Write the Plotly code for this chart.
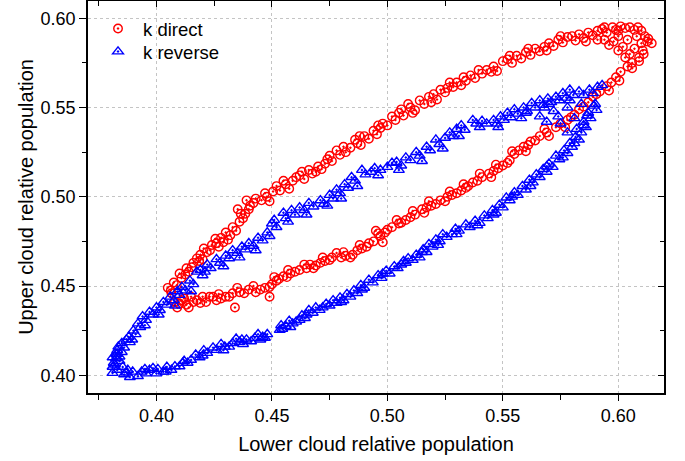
import plotly.graph_objects as go

# ---- k direct (red circles), traced around the loop ----
direct_x = [
0.4049,0.4062,0.4075,0.4088,0.4100,0.4108,0.4130,0.4125,0.4160,0.4152,0.4175,0.4190,0.4185,0.4218,0.4205,
0.4240,0.4232,0.4260,0.4255,0.4280,0.4290,0.4300,0.4320,0.4330,0.4345,0.4352,0.4360,0.4375,0.4390,0.4385,
0.4405,0.4430,0.4420,0.4455,0.4478,0.4490,0.4505,0.4520,0.4535,0.4560,0.4575,0.4590,0.4605,0.4620,0.4640,
0.4660,0.4675,0.4700,0.4715,0.4740,0.4730,0.4760,0.4780,0.4795,0.4820,0.4840,0.4870,0.4860,0.4885,0.4900,
0.4920,0.4940,0.4955,0.4980,0.4970,0.5000,0.5020,0.5035,0.5050,0.5070,0.5100,0.5090,0.5120,0.5140,0.5160,
0.5180,0.5200,0.5215,0.5230,0.5250,0.5270,0.5285,0.5300,0.5320,0.5340,0.5360,0.5380,0.5410,0.5430,0.5460,
0.5475,0.5500,0.5520,0.5540,0.5560,0.5580,0.5600,0.5620,0.5640,0.5660,0.5680,0.5700,0.5720,0.5740,0.5760,
0.5780,0.5800,0.5815,0.5830,0.5850,0.5870,0.5890,0.5910,0.5930,0.5950,0.5975,0.5990,0.6010,0.6030,0.6050,
0.6070,0.6085,0.6100,0.6115,0.6130,0.6145,0.6125,
0.5960,0.6000,0.6040,0.6070,0.6030,0.6090,0.6060,0.6000,0.5940,0.6100,0.5980,0.6020,0.6080,0.5910,0.6110,0.6050,
0.6106,0.6090,0.6060,0.6040,0.6010,0.5990,0.6005,0.5970,0.5950,0.5960,0.5920,0.5890,0.5905,0.5870,0.5830,
0.5850,0.5810,0.5780,0.5795,
0.5730,0.5750,0.5690,0.5700,0.5660,0.5640,0.5620,0.5590,0.5600,0.5570,0.5550,0.5530,0.5520,0.5500,0.5480,
0.5460,0.5440,0.5450,0.5410,0.5390,0.5370,0.5350,0.5340,0.5320,0.5300,0.5280,0.5260,0.5250,0.5230,0.5210,
0.5190,0.5170,0.5150,0.5160,0.5120,0.5100,0.5080,0.5060,0.5050,0.5020,0.5000,0.4990,0.4970,0.4980,0.4960,
0.4940,0.4920,0.4910,0.4890,0.4870,0.4850,0.4840,0.4820,0.4800,0.4780,0.4760,0.4750,0.4730,0.4710,0.4690,
0.4680,0.4665,0.4650,0.4620,0.4600,0.4580,0.4565,0.4550,0.4530,0.4520,0.4500,0.4490,0.4490,0.4470,0.4450,
0.4430,0.4400,0.4380,0.4360,0.4340,0.4330,0.4315,0.4300,0.4280,0.4260,0.4245,0.4230,0.4215,0.4190,0.4175,
0.4160,0.4140,0.4130,0.4110,0.4100,0.4090,0.4080,0.4065,
0.4140,0.4200,0.4270,0.4310,0.4365,0.4400,0.4470,0.4550,0.4630,0.4690,0.4750,0.4810,0.4880,0.4960,0.5060,
0.5110,0.5190,0.5260,0.5330,0.5395,0.5450,0.5530,0.5610,0.5690,0.5750,0.5860,0.5940,0.6000,
0.5770,0.5680,0.5610,0.5540,0.5470,0.5400,0.5330,0.5270,0.5180,0.5110,0.5040,0.4950,0.4880,0.4810,0.4720,
0.4640,0.4570,0.4510,0.4420,0.4350,0.4270,0.4200,0.4150,0.4120,
]
direct_y = [
0.4490,0.4475,0.4520,0.4505,0.4570,0.4545,0.4600,0.4565,0.4630,0.4605,0.4655,0.4675,0.4640,0.4690,0.4710,
0.4730,0.4700,0.4740,0.4765,0.4770,0.4745,0.4800,0.4785,0.4830,0.4810,0.4930,0.4860,0.4880,0.4980,0.4905,
0.4950,0.4990,0.4965,0.4980,0.5000,0.4975,0.5030,0.5060,0.5035,0.5070,0.5045,0.5090,0.5110,0.5120,0.5100,
0.5150,0.5130,0.5170,0.5155,0.5210,0.5185,0.5200,0.5260,0.5235,0.5250,0.5275,0.5300,0.5320,0.5290,0.5340,
0.5325,0.5370,0.5350,0.5410,0.5385,0.5400,0.5450,0.5430,0.5470,0.5455,0.5500,0.5520,0.5485,0.5540,0.5520,
0.5560,0.5575,0.5545,0.5600,0.5585,0.5640,0.5615,0.5640,0.5625,0.5650,0.5680,0.5665,0.5690,0.5710,0.5730,
0.5705,0.5760,0.5770,0.5750,0.5790,0.5775,0.5810,0.5795,0.5830,0.5815,0.5840,0.5860,0.5845,0.5880,0.5865,
0.5895,0.5900,0.5875,0.5910,0.5890,0.5920,0.5905,0.5930,0.5940,0.5920,0.5950,0.5935,0.5955,0.5945,0.5950,
0.5935,0.5950,0.5930,0.5900,0.5885,0.5860,0.5870,
0.5850,0.5820,0.5880,0.5830,0.5780,0.5780,0.5720,0.5900,0.5880,0.5860,0.5870,0.5840,0.5900,0.5880,0.5800,0.5800,
0.5820,0.5760,0.5750,0.5730,0.5700,0.5670,0.5650,0.5640,0.5620,0.5595,0.5590,0.5560,0.5575,0.5530,0.5490,
0.5505,0.5460,0.5430,0.5445,
0.5390,0.5410,0.5360,0.5340,0.5340,0.5315,0.5310,0.5280,0.5255,0.5260,0.5240,0.5205,0.5190,0.5175,0.5160,
0.5145,0.5130,0.5110,0.5110,0.5090,0.5080,0.5060,0.5050,0.5035,0.5020,0.5010,0.5000,0.4975,0.4980,0.4960,
0.4950,0.4940,0.4930,0.4910,0.4900,0.4885,0.4870,0.4855,0.4850,0.4830,0.4815,0.4800,0.4780,0.4745,0.4795,
0.4750,0.4740,0.4720,0.4710,0.4700,0.4675,0.4660,0.4670,0.4660,0.4685,0.4660,0.4646,0.4640,0.4630,0.4615,
0.4600,0.4620,0.4600,0.4590,0.4580,0.4570,0.4550,0.4555,0.4540,0.4530,0.4510,0.4495,0.4440,0.4490,0.4480,
0.4465,0.4480,0.4460,0.4465,0.4380,0.4460,0.4440,0.4440,0.4430,0.4420,0.4440,0.4440,0.4410,0.4405,0.4420,
0.4410,0.4380,0.4395,0.4420,0.4400,0.4380,0.4410,0.4460,
0.4580,0.4650,0.4720,0.4760,0.4905,0.4930,0.5020,0.5090,0.5140,0.5140,0.5230,0.5280,0.5340,0.5400,0.5490,
0.5470,0.5530,0.5610,0.5670,0.5710,0.5700,0.5790,0.5830,0.5820,0.5900,0.5870,0.5950,0.5930,
0.5390,0.5380,0.5290,0.5255,0.5180,0.5130,0.5070,0.5030,0.4975,0.4920,0.4870,0.4810,0.4730,0.4690,0.4660,
0.4620,0.4590,0.4550,0.4500,0.4490,0.4455,0.4440,0.4440,0.4430,
]

# ---- k reverse (blue triangles), traced around the loop ----
reverse_x = [
0.3810,0.3815,0.3825,0.3830,0.3840,0.3850,0.3860,0.3870,0.3880,0.3885,0.3900,0.3910,0.3920,0.3930,0.3940,
0.3955,0.3970,0.3985,0.4000,0.4015,0.4030,0.4045,0.4060,0.4075,0.4090,0.4100,0.4110,0.4125,0.4145,0.4160,
0.4175,0.4190,0.4200,0.4220,0.4235,0.4260,0.4275,0.4300,0.4315,0.4330,0.4350,0.4370,0.4385,0.4400,0.4420,
0.4440,0.4460,0.4480,0.4490,0.4510,0.4520,0.4550,0.4560,0.4585,0.4600,0.4620,0.4640,0.4660,0.4680,0.4710,
0.4725,0.4750,0.4765,0.4780,0.4795,0.4815,0.4830,0.4845,0.4860,0.4890,0.4905,0.4930,0.4945,0.4970,0.5000,
0.5020,0.5040,0.5060,0.5080,0.5100,0.5125,0.5140,0.5170,0.5185,0.5210,0.5225,0.5250,0.5270,0.5285,0.5300,
0.5320,0.5335,0.5370,0.5385,0.5410,0.5430,0.5460,0.5475,0.5490,0.5505,0.5520,0.5535,0.5550,0.5565,0.5590,
0.5605,0.5625,0.5640,0.5660,0.5675,0.5695,0.5710,0.5730,0.5745,0.5760,0.5775,0.5790,0.5805,0.5830,0.5850,
0.5875,0.5890,0.5910,0.5930,
0.5660,0.5720,0.5780,0.5840,0.5750,0.5810,0.5870,0.5780,0.5850,0.5700,0.5600,0.5900,0.5690,0.5820,0.5740,
0.5906,0.5895,0.5880,0.5865,0.5860,0.5840,0.5830,0.5815,0.5800,0.5790,0.5780,0.5765,0.5745,0.5730,0.5716,
0.5700,0.5690,0.5675,0.5660,0.5645,0.5630,0.5615,0.5600,0.5585,0.5565,0.5550,0.5530,0.5515,0.5500,0.5485,
0.5470,0.5455,0.5435,0.5420,0.5400,0.5380,0.5357,0.5340,0.5310,0.5295,0.5280,0.5257,0.5240,0.5227,0.5210,
0.5196,0.5180,0.5170,0.5155,0.5140,0.5125,0.5110,0.5090,0.5080,0.5060,0.5045,0.5030,0.5010,0.4995,0.4975,
0.4960,0.4937,0.4920,0.4900,0.4885,0.4870,0.4855,0.4840,0.4825,0.4810,0.4795,0.4780,0.4765,0.4750,0.4735,
0.4707,0.4690,0.4677,0.4660,0.4643,0.4630,0.4620,0.4605,0.4590,0.4575,0.4560,0.4545,0.4534,0.4540,
0.4480,0.4470,0.4460,0.4440,0.4426,0.4410,0.4390,0.4375,0.4360,0.4345,0.4330,0.4315,0.4296,0.4280,0.4260,
0.4245,0.4220,0.4205,0.4187,0.4170,0.4150,0.4135,0.4114,0.4100,0.4080,0.4065,0.4045,0.4030,0.4006,0.4000,
0.3985,0.3970,0.3955,0.3936,0.3920,0.3897,0.3885,0.3876,0.3860,0.3854,0.3840,0.3830,0.3820,0.3810,0.3810,
0.3825,
0.3835,0.3895,0.3950,0.4010,0.4080,0.4150,0.4210,0.4290,0.4360,0.4430,0.4500,0.4570,0.4650,0.4740,0.4800,
0.4870,0.4960,0.5050,0.5150,0.5240,0.5310,0.5400,0.5480,0.5580,0.5680,0.5790,
0.5850,0.5810,0.5760,0.5690,0.5620,0.5540,0.5460,0.5390,0.5300,0.5220,0.5150,0.5070,0.4980,0.4890,0.4800,
0.4720,0.4650,0.4580,0.4450,0.4370,0.4290,0.4200,0.4120,0.4040,0.3950,0.3870,0.3830,0.3850,
]
reverse_y = [
0.4100,0.4070,0.4120,0.4140,0.4105,0.4180,0.4155,0.4200,0.4215,0.4185,0.4250,0.4230,0.4290,0.4270,0.4330,
0.4310,0.4355,0.4340,0.4380,0.4365,0.4410,0.4395,0.4440,0.4420,0.4470,0.4450,0.4495,0.4475,0.4530,0.4510,
0.4580,0.4590,0.4560,0.4620,0.4600,0.4650,0.4630,0.4670,0.4655,0.4700,0.4685,0.4720,0.4705,0.4740,0.4725,
0.4770,0.4755,0.4800,0.4780,0.4870,0.4830,0.4910,0.4880,0.4925,0.4900,0.4940,0.4925,0.4965,0.4945,0.4980,
0.4960,0.5010,0.4990,0.5040,0.5020,0.5070,0.5050,0.5110,0.5090,0.5150,0.5125,0.5140,0.5160,0.5150,0.5167,
0.5190,0.5195,0.5175,0.5220,0.5205,0.5250,0.5230,0.5280,0.5260,0.5320,0.5295,0.5330,0.5360,0.5340,0.5380,
0.5400,0.5375,0.5430,0.5410,0.5425,0.5410,0.5430,0.5410,0.5450,0.5430,0.5470,0.5445,0.5490,0.5465,0.5500,
0.5480,0.5525,0.5500,0.5540,0.5515,0.5550,0.5530,0.5560,0.5540,0.5580,0.5555,0.5600,0.5570,0.5590,0.5570,
0.5600,0.5580,0.5615,0.5625,
0.5450,0.5480,0.5500,0.5520,0.5410,0.5440,0.5470,0.5360,0.5400,0.5520,0.5470,0.5520,0.5420,0.5380,0.5450,
0.5486,0.5510,0.5440,0.5455,0.5390,0.5360,0.5320,0.5335,0.5280,0.5300,0.5245,0.5260,0.5210,0.5230,0.5167,
0.5185,0.5140,0.5155,0.5110,0.5125,0.5080,0.5095,0.5040,0.5060,0.5010,0.5025,0.4980,0.4995,0.4940,0.4955,
0.4910,0.4925,0.4880,0.4895,0.4853,0.4865,0.4830,0.4845,0.4810,0.4820,0.4790,0.4775,0.4790,0.4750,0.4760,
0.4720,0.4735,0.4690,0.4705,0.4660,0.4675,0.4646,0.4655,0.4630,0.4620,0.4600,0.4610,0.4570,0.4585,0.4545,
0.4560,0.4520,0.4535,0.4490,0.4505,0.4460,0.4475,0.4440,0.4455,0.4420,0.4435,0.4405,0.4420,0.4390,0.4400,
0.4366,0.4380,0.4350,0.4365,0.4320,0.4335,0.4310,0.4300,0.4290,0.4305,0.4276,0.4260,0.4254,0.4280,
0.4230,0.4210,0.4215,0.4230,0.4210,0.4190,0.4200,0.4175,0.4187,0.4205,0.4180,0.4160,0.4160,0.4175,0.4142,
0.4155,0.4125,0.4140,0.4100,0.4115,0.4086,0.4070,0.4069,0.4050,0.4050,0.4030,0.4047,0.4020,0.4035,0.4010,
0.4040,0.4030,0.4010,0.4020,0.3995,0.4020,0.3990,0.4030,0.4005,0.4047,0.4080,0.4030,0.4060,0.4013,0.4047,
0.4095,
0.4160,0.4200,0.4280,0.4340,0.4390,0.4470,0.4580,0.4610,0.4660,0.4700,0.4850,0.4860,0.4900,0.4950,0.4990,
0.5060,0.5120,0.5150,0.5200,0.5270,0.5340,0.5390,0.5390,0.5440,0.5500,0.5540,
0.5420,0.5300,0.5220,0.5170,0.5060,0.5000,0.4900,0.4840,0.4790,0.4730,0.4690,0.4640,0.4570,0.4480,0.4410,
0.4380,0.4340,0.4270,0.4200,0.4200,0.4140,0.4110,0.4080,0.4020,0.4035,0.4015,0.4120,0.4130,
]

x_range = [0.37036, 0.6198]
y_range = [0.39008, 0.60969]
tick_dtick = 0.05

FONT = "Liberation Sans, Arial, sans-serif"

fig = go.Figure()
fig.add_trace(go.Scatter(
    x=direct_x, y=direct_y, mode="markers", name="k direct", legend="legend",
    marker=dict(symbol="circle-open-dot", size=8.5, color="#ff0000",
                line=dict(width=1.4, color="#ff0000")),
))
fig.add_trace(go.Scatter(
    x=reverse_x, y=reverse_y, mode="markers", name="k reverse", legend="legend2",
    marker=dict(symbol="triangle-up-open-dot", size=9.5, color="#0000ff",
                line=dict(width=1.4, color="#0000ff")),
))
# invisible trace to anchor the mirrored (top/right) axes
fig.add_trace(go.Scatter(x=[], y=[], xaxis="x2", yaxis="y2", showlegend=False,
                         hoverinfo="skip"))

axis_common = dict(
    showline=True, linecolor="black", linewidth=1.5,
    dtick=tick_dtick, tickformat=".2f", zeroline=False, automargin=False,
)
legend_common = dict(
    x=0.0087, xanchor="left", yanchor="middle",
    bgcolor="rgba(0,0,0,0)", borderwidth=0,
    font=dict(family=FONT, size=18.5), itemwidth=40,
)

fig.update_layout(
    width=685, height=461,
    margin=dict(l=88, r=21, t=1, b=68),
    paper_bgcolor="white", plot_bgcolor="white",
    font=dict(family=FONT, size=18, color="black"),
    showlegend=True,
    legend=dict(y=0.9286, **legend_common),
    legend2=dict(y=0.8699, **legend_common),
    xaxis=dict(
        range=x_range, ticks="outside", ticklen=6, tickwidth=1.3,
        tickcolor="black", showgrid=True, gridcolor="#c4c4c4",
        griddash="dot", gridwidth=1,
        minor=dict(ticks="outside", ticklen=5, tickwidth=1.3,
                   tickcolor="black", dtick=tick_dtick / 2, showgrid=False),
        title=dict(text="Lower cloud relative population",
                   font=dict(family=FONT, size=20), standoff=12),
        tickfont=dict(family=FONT, size=18),
        **axis_common,
    ),
    yaxis=dict(
        range=y_range, ticks="outside", ticklen=7, tickwidth=1.3,
        tickcolor="black", showgrid=True, gridcolor="#c4c4c4",
        griddash="dot", gridwidth=1,
        minor=dict(ticks="outside", ticklen=4, tickwidth=1.3,
                   tickcolor="black", dtick=tick_dtick / 2, showgrid=False),
        title=dict(text="Upper cloud relative population",
                   font=dict(family=FONT, size=20), standoff=2),
        tickfont=dict(family=FONT, size=18),
        **axis_common,
    ),
    xaxis2=dict(
        range=x_range, overlaying="x", side="top", anchor="y",
        ticks="inside", ticklen=6, tickwidth=1.3, tickcolor="black",
        showticklabels=False, showgrid=False,
        minor=dict(ticks="inside", ticklen=5, tickwidth=1.3,
                   tickcolor="black", dtick=tick_dtick / 2),
        **axis_common,
    ),
    yaxis2=dict(
        range=y_range, overlaying="y", side="right", anchor="x",
        ticks="inside", ticklen=6, tickwidth=1.3, tickcolor="black",
        showticklabels=False, showgrid=False,
        minor=dict(ticks="inside", ticklen=4, tickwidth=1.3,
                   tickcolor="black", dtick=tick_dtick / 2),
        **axis_common,
    ),
)

fig.write_html(
    "out.html",
    config={"displayModeBar": False},
    post_script="document.body.style.margin='0';document.body.style.overflow='hidden';",
)
